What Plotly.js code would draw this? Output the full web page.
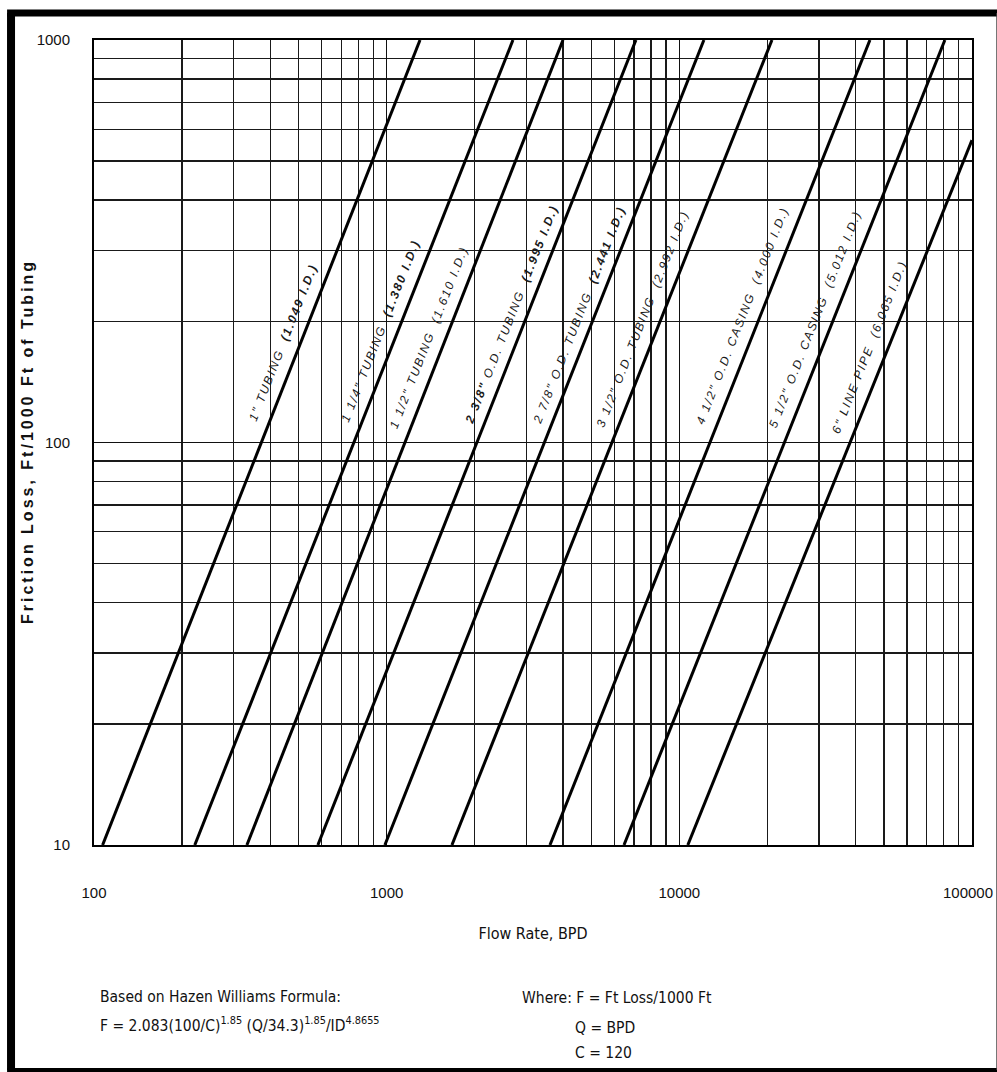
<!DOCTYPE html>
<html>
<head>
<meta charset="utf-8">
<script src="https://cdn.plot.ly/plotly-3.0.1.min.js"></script>
<style>
  html, body { margin: 0; padding: 0; background: #fff; }
  #chart { width: 997px; height: 1072px; }
  g.annotation[data-index="0"] text, g.annotation[data-index="1"] text,
  g.annotation[data-index="2"] text, g.annotation[data-index="3"] text,
  g.annotation[data-index="4"] text, g.annotation[data-index="5"] text,
  g.annotation[data-index="6"] text, g.annotation[data-index="7"] text,
  g.annotation[data-index="8"] text { letter-spacing: 1.8px; }
  g.annotation[data-index="14"] text { letter-spacing: 3px; }
</style>
</head>
<body>
<div id="chart"></div>
<script>
// ---- data ----
const pipeLabels = [
  '1" TUBING  <b>(1.049 I.D.)</b>',
  '1 1/4" TUBING  <b>(1.380 I.D.)</b>',
  '1 1/2" TUBING  (1.610 I.D.)',
  '<b>2 3/8"</b> O.D. TUBING  <b>(1.995 I.D.)</b>',
  '2 7/8" O.D. TUBING  <b>(2.441 I.D.)</b>',
  '3 1/2" O.D. TUBING  (2.992 I.D.)',
  '4 1/2" O.D. CASING  (4.000 I.D.)',
  '5 1/2" O.D. CASING  (5.012 I.D.)',
  '6" LINE PIPE  (6.065 I.D.)'
];
// start point of each line (flow rate, friction loss)
const startFlow = [107, 221, 333, 582, 986, 1671, 3614, 6470, 10690];
const startLoss = [10, 10, 10, 10, 10, 10, 10, 10, 10];
// end point of each line (flow rate, friction loss)
const endFlow = [1300, 2701, 4004, 7107, 12134, 20726, 44800, 80800, 100000];
const endLoss = [1000, 1000, 1000, 1000, 1000, 1000, 1000, 1000, 564];

const xTickVals = [100, 1000, 10000, 100000];
const xTickText = ['100', '1000', '10000', '100000'];
const yTickVals = [10, 100, 1000];
const yTickText = ['10', '100', '1000'];

// ---- styling / layout ----
const narrow = '"Liberation Sans Narrow", "Arial Narrow", "DejaVu Sans Condensed", sans-serif';
const sans = '"Liberation Sans", Arial, Helvetica, sans-serif';

// label centre positions (paper coords)
const labelPos = [
  [0.2150, 0.6240], [0.3260, 0.6390], [0.3810, 0.6300],
  [0.4750, 0.6590], [0.5530, 0.6580], [0.6250, 0.6530],
  [0.7390, 0.6580], [0.8210, 0.6540], [0.8830, 0.6190]
];

const traces = startFlow.map((q0, i) => ({
  type: 'scatter',
  mode: 'lines',
  x: [q0, endFlow[i]],
  y: [startLoss[i], endLoss[i]],
  line: { color: '#000', width: 3 },
  hoverinfo: 'skip',
  showlegend: false
}));

const annotations = pipeLabels.map((t, i) => ({
  xref: 'paper', yref: 'paper',
  x: labelPos[i][0], y: labelPos[i][1],
  xanchor: 'center', yanchor: 'middle',
  text: '<i>' + t.replace(/  /g, '\u00A0\u00A0') + '</i>',
  textangle: -68.5,
  showarrow: false,
  font: { family: sans, size: 12, color: '#1a1a1a' }
}));

const noteFont = { family: narrow, size: 15.5, color: '#111' };
annotations.push(
  { xref: 'paper', yref: 'paper', x: 0.0046, y: -0.1888, xanchor: 'left', yanchor: 'middle',
    text: 'Based on Hazen Williams Formula:', showarrow: false, font: noteFont },
  { xref: 'paper', yref: 'paper', x: 0.0046, y: -0.2236, xanchor: 'left', yanchor: 'middle',
    text: 'F = 2.083(100/C)<sup>1.85</sup> (Q/34.3)<sup>1.85</sup>/ID<sup>4.8655</sup>', showarrow: false,
    font: noteFont },
  { xref: 'paper', yref: 'paper', x: 0.4852, y: -0.1901, xanchor: 'left', yanchor: 'middle',
    text: 'Where: F = Ft Loss/1000 Ft', showarrow: false, font: noteFont },
  { xref: 'paper', yref: 'paper', x: 0.5456, y: -0.2273, xanchor: 'left', yanchor: 'middle',
    text: 'Q = BPD', showarrow: false, font: noteFont },
  { xref: 'paper', yref: 'paper', x: 0.5456, y: -0.2584, xanchor: 'left', yanchor: 'middle',
    text: 'C = 120', showarrow: false, font: noteFont },
  { xref: 'paper', yref: 'paper', x: -0.0752, y: 0.5012, xanchor: 'center', yanchor: 'middle',
    text: '<b>Friction Loss, Ft/1000 Ft of Tubing</b>', textangle: -90, showarrow: false,
    font: { family: sans, size: 16, color: '#111' } },
  // last x tick label, drawn slightly inside the page edge as in the reference
  { xref: 'paper', yref: 'paper', x: 0.9954, y: -0.0596, xanchor: 'center', yanchor: 'middle',
    text: xTickText[xTickText.length - 1], showarrow: false,
    font: { family: sans, size: 15, color: '#111' } }
);

const shapes = [
  { type: 'line', xref: 'paper', yref: 'paper', x0: -0.0945, x1: -0.0945, y0: 1.0335, y1: -0.2795,
    line: { color: '#000', width: 8 } },
  { type: 'line', xref: 'paper', yref: 'paper', x0: -0.099, x1: 1.03, y0: 1.0335, y1: 1.0335,
    line: { color: '#000', width: 7 } },
  { type: 'line', xref: 'paper', yref: 'paper', x0: -0.099, x1: 1.03, y0: -0.2795, y1: -0.2795,
    line: { color: '#000', width: 4 } },
  { type: 'line', xref: 'paper', yref: 'paper', x0: 1.0285, x1: 1.0285, y0: 1.0335, y1: -0.2795,
    line: { color: '#444', width: 1.5 } }
];

const layout = {
  width: 997, height: 1072,
  margin: { l: 94, r: 25, t: 40, b: 227, pad: 0 },
  paper_bgcolor: '#fff', plot_bgcolor: '#fff',
  showlegend: false,
  xaxis: {
    type: 'log', range: [1.99995, 5.00005],
    tickmode: 'array', tickvals: xTickVals.slice(0, -1), ticktext: xTickText.slice(0, -1),
    ticks: '', ticklabelstandoff: 33,
    tickfont: { family: sans, size: 15, color: '#111' },
    showgrid: true, gridcolor: '#111', gridwidth: 1.6,
    minor: { dtick: 'D1', showgrid: true, gridcolor: '#1a1a1a', gridwidth: 1.4, ticks: '' },
    showline: true, linecolor: '#000', linewidth: 2, mirror: true,
    zeroline: false,
    title: { text: 'Flow Rate, BPD', standoff: 28, font: { family: narrow, size: 16, color: '#111' } }
  },
  yaxis: {
    type: 'log', range: [0.99995, 3.00005],
    tickmode: 'array', tickvals: yTickVals, ticktext: yTickText,
    ticks: '', ticklabelstandoff: 19, ticklabeloverflow: 'allow',
    tickfont: { family: sans, size: 15, color: '#111' },
    showgrid: true, gridcolor: '#111', gridwidth: 1.6,
    minor: { dtick: 'D1', showgrid: true, gridcolor: '#1a1a1a', gridwidth: 1.4, ticks: '' },
    showline: true, linecolor: '#000', linewidth: 2, mirror: true,
    zeroline: false
  },
  annotations: annotations,
  shapes: shapes
};

Plotly.newPlot('chart', traces, layout, { staticPlot: true, displayModeBar: false });
</script>
</body>
</html>
